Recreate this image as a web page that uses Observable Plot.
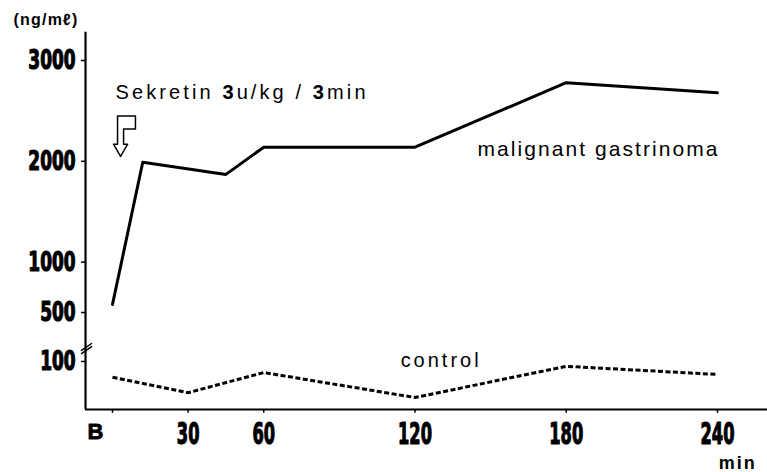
<!DOCTYPE html>
<html><head><meta charset="utf-8">
<script src="https://cdn.jsdelivr.net/npm/d3@7"></script>
<script src="https://cdn.jsdelivr.net/npm/@observablehq/plot@0.6"></script>
<style>body{margin:0;background:#fff}</style>
</head><body><div id="chart"></div>
<script>
// Data (minutes after secretin; B = basal at 0)
const times = [0, 12, 45, 60, 120, 180, 240];
const malignant = [580, 1990, 1870, 2140, 2140, 2780, 2680];
const controlTimes = [0, 30, 60, 120, 180, 240];
const control = [67, 35, 77, 25, 90, 73];
const xTicks = [0, 30, 60, 120, 180, 240];
const xTickLabels = ["B", "30", "60", "120", "180", "240"];
const yTicks = [100, 500, 1000, 2000, 3000];
const yTickLabels = ["100", "500", "1000", "2000", "3000"];

const malData = times.map((t, i) => ({t, v: malignant[i]}));
const ctlData = controlTimes.map((t, i) => ({t, v: control[i]}));
const xTickData = xTicks.map((t, i) => ({t, label: xTickLabels[i]}));
const yTickData = yTicks.map((v, i) => ({v, label: yTickLabels[i]}));

// annotation arrow outline (data units)
const arrow = [
  {t: 2.0, v: 2450}, {t: 9.1, v: 2450}, {t: 9.1, v: 2320}, {t: 4.4, v: 2320},
  {t: 4.4, v: 2170}, {t: 6.0, v: 2170}, {t: 3.2, v: 2050}, {t: 0.4, v: 2170},
  {t: 2.0, v: 2170}, {t: 2.0, v: 2450}
];
const axisX = -10.7, axisTop = 3280, xEnd = 260;
const breakMarks = [
  [{t: -12.3, v: 190}, {t: -8.3, v: 247}],
  [{t: -12.3, v: 165}, {t: -8.3, v: 222}]
];

// broken axis: 0–100 below the break, 500–3000 above it
const brk = d3.scaleLinear().domain([0, 100, 500, 3000]).range([0, 48, 97, 349]);

const numFont = "'DejaVu Sans Condensed','DejaVu Sans',sans-serif";
const labelFont = "'Liberation Sans',Arial,sans-serif";

const chart = Plot.plot({
  width: 767, height: 472,
  marginTop: 0, marginBottom: 0, marginLeft: 0, marginRight: 0,
  style: {background: "#fff", color: "#000"},
  x: {domain: [0, 240], range: [112, 717], axis: null},
  y: {transform: brk, domain: [0, 377], range: [409, 32], axis: null},
  marks: [
    // axes
    Plot.ruleX([axisX], {y1: 0, y2: axisTop, stroke: "#000", strokeWidth: 2.2}),
    Plot.ruleY([0], {x1: axisX, x2: xEnd, stroke: "#000", strokeWidth: 2.2}),
    Plot.ruleY(yTickData, {y: "v", x1: axisX - 1.6, x2: axisX, stroke: "#000", strokeWidth: 1.5}),
    Plot.ruleX(xTickData, {x: "t", y1: 0, y2: -8, stroke: "#000", strokeWidth: 1.5}),
    ...breakMarks.map(b => Plot.line(b, {x: "t", y: "v", stroke: "#000", strokeWidth: 1.5})),
    Plot.text(yTickData, {x: () => axisX, y: "v", text: "label", textAnchor: "end", dx: -10, fontSize: 27, fontWeight: "bold", fontFamily: numFont, fill: "#000", stroke: "#000", strokeWidth: 1.2}),
    Plot.text(xTickData.filter(d => d.label !== "B"), {x: "t", y: () => 0, text: "label", lineAnchor: "top", dy: 13, fontSize: 30, fontWeight: "bold", fontFamily: numFont, fill: "#000", stroke: "#000", strokeWidth: 1.2}),
    Plot.text(xTickData.filter(d => d.label === "B"), {x: "t", y: () => 0, text: "label", lineAnchor: "top", dy: 14, dx: -17, fontSize: 22, fontWeight: "bold", fontFamily: labelFont, fill: "#000", stroke: "#000", strokeWidth: 0.8}),
    // data
    Plot.line(malData, {x: "t", y: "v", stroke: "#000", strokeWidth: 3}),
    Plot.line(ctlData, {x: "t", y: "v", stroke: "#000", strokeWidth: 3, strokeDasharray: "5,2.5", strokeLinecap: "butt"}),
    Plot.line(arrow, {x: "t", y: "v", stroke: "#000", strokeWidth: 1.5, fill: "none"}),
    // labels
    Plot.text(["(ng/mℓ)"], {x: () => -26.6, y: () => 3400, text: d => d, fontSize: 16, fontWeight: "bold", fontFamily: labelFont}),
    Plot.text(["Sekretin 3u/kg / 3min"], {x: () => 1.2, y: () => 2680, text: d => d, textAnchor: "start", fontSize: 20, fontFamily: labelFont, fontWeight: 500}),
    Plot.text(["malignant gastrinoma"], {x: () => 144.8, y: () => 2120, text: d => d, textAnchor: "start", fontSize: 21, fontFamily: labelFont}),
    Plot.text(["control"], {x: () => 114.3, y: () => 104, text: d => d, textAnchor: "start", fontSize: 20, fontFamily: labelFont}),
    Plot.text(["min"], {x: () => 240.5, y: () => -111, text: d => d, textAnchor: "start", fontSize: 18, fontWeight: "bold", fontFamily: labelFont})
  ]
});
document.getElementById("chart").appendChild(chart);

// fit label widths to the reference, condense the numerals, embolden the dose figures
const fits = {"Sekretin 3u/kg / 3min": 250, "malignant gastrinoma": 240, "control": 78, "min": 36, "(ng/mℓ)": 64};
d3.select(chart).selectAll("text").each(function() {
  const s = this.textContent;
  if (fits[s]) {
    this.setAttribute("textLength", fits[s]);
    this.setAttribute("lengthAdjust", "spacing");
  } else if (/^\d+$/.test(s)) {
    const per = this.closest("[font-size='27']") ? 11.8 : 11.3;
    this.setAttribute("textLength", per * s.length);
    this.setAttribute("lengthAdjust", "spacingAndGlyphs");
  }
  if (s.startsWith("Sekretin")) {
    const el = d3.select(this);
    el.text(null);
    const parts = [["Sekretin ", "normal"], ["3", "bold"], ["u/kg / ", "normal"], ["3", "bold"], ["min", "normal"]];
    for (const [p, w] of parts) el.append("tspan").attr("font-weight", w).text(p);
  }
});
</script></body></html>
